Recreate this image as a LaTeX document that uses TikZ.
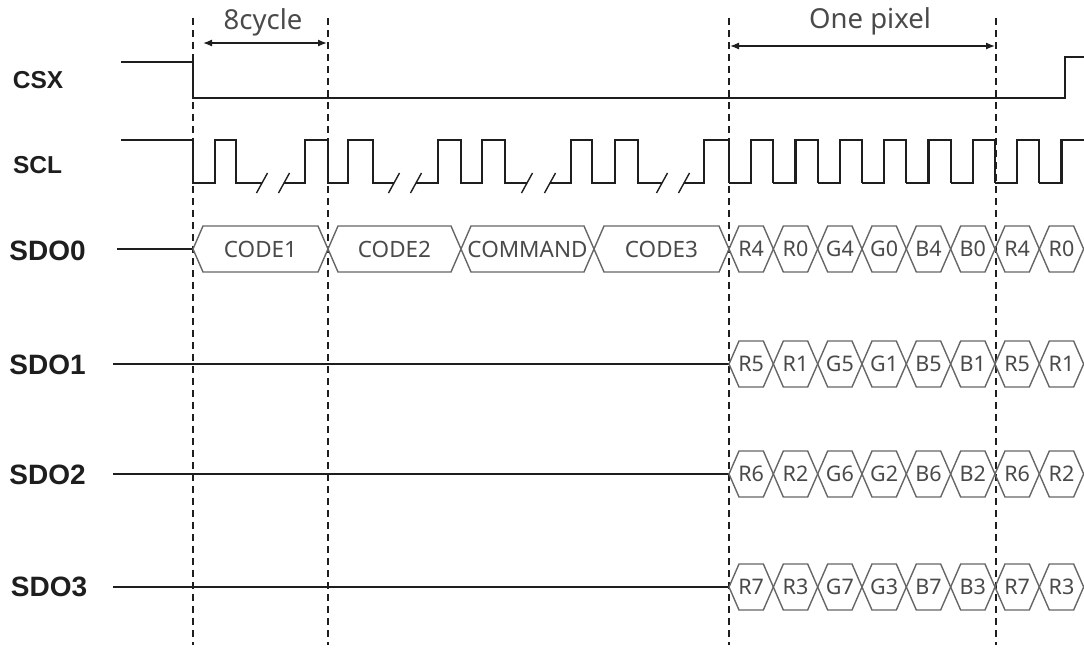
\documentclass[tikz,border=0pt]{standalone}
\usepackage{fontspec}
\setmainfont{Liberation Sans}
\newfontfamily\hexfont{Noto Sans}
\usetikzlibrary{arrows.meta}
\definecolor{sig}{HTML}{1E1E1E}
\definecolor{hexgray}{HTML}{666666}
\definecolor{txtgray}{HTML}{4A4A4A}
\tikzset{
  signal/.style={line width=2.2pt, sig, line join=miter},
  marker/.style={line width=2pt, dash pattern=on 7pt off 5pt, sig},
  hexline/.style={line width=1.4pt, hexgray, line join=miter},
  hextext/.style={font=\hexfont\fontsize{22.5}{26}\selectfont, txtgray, inner sep=0pt},
  pixtext/.style={font=\hexfont\fontsize{21.5}{24}\selectfont, txtgray, inner sep=0pt},
  siglabel/.style={font=\bfseries\fontsize{24.5}{28}\selectfont, sig, inner sep=0pt},
  sdolabel/.style={font=\bfseries\fontsize{28}{32}\selectfont, sig, inner sep=0pt},
  dimtext/.style={font=\hexfont\fontsize{27.5}{32}\selectfont, txtgray, inner sep=0pt},
  dimarrow/.style={line width=1.3pt, sig, {Latex[length=9pt,width=7pt]}-{Latex[length=9pt,width=7pt]}},
  breakmark/.style={line width=1.4pt, sig},
}
% hexbox{x1}{x2}{y}{name}{text}{style}
\newcommand{\hexbox}[6]{%
  \draw[hexline] (#1,#3) -- (#1+10,#3-23) -- (#2-10,#3-23) -- (#2,#3) -- (#2-10,#3+23) -- (#1+10,#3+23) -- cycle;
  \node[#6] (#4) at ({(#1+#2)/2},#3) {#5};
}
\newcommand{\cut}[1]{%
  \draw[breakmark] (#1-5.5,193) -- (#1+5.5,173);
}
\begin{document}
\begin{tikzpicture}[x=1pt,y=-1pt]
  \useasboundingbox (0,0) rectangle (1084,651);

  \foreach \m/\x in {a/193,b/328,c/729,d/996} {
    \coordinate (top\m) at (\x,18);
    \coordinate (bot\m) at (\x,645);
    \draw[marker] (top\m) -- (bot\m);
  }

  \node[dimtext] (cyc) at (263,22) {8cycle};
  \node[dimtext] (pix) at (870,21) {One pixel};
  \coordinate (cycl) at (203,43);
  \coordinate (cycr) at (327,43);
  \coordinate (pixl) at (730,46);
  \coordinate (pixr) at (995,46);
  \draw[dimarrow] (cycl) -- (cycr);
  \draw[dimarrow] (pixl) -- (pixr);

  \node[siglabel] (csx) at (38,80) {CSX};
  \node[siglabel] (scl) at (37.5,165) {SCL};
  \node[sdolabel] (sdoa) at (47.5,251) {SDO0};
  \node[sdolabel] (sdob) at (47.5,365) {SDO1};
  \node[sdolabel] (sdoc) at (47.5,475) {SDO2};
  \node[sdolabel] (sdod) at (49,587) {SDO3};

  \draw[signal] (121,62) -- (193,62) -- (193,98) -- (1065,98) -- (1065,57) -- (1084,57);

  \draw[signal] (121,140) -- (193,140) -- (193,183) -- (215,183) -- (215,140) -- (236,140) -- (236,183) -- (262,183);
  \cut{262} \cut{284}
  \draw[signal] (284,183) -- (305,183) -- (305,140) -- (328,140) -- (328,183) -- (348,183) -- (348,140) -- (373,140) -- (373,183) -- (394,183);
  \cut{394} \cut{416}
  \draw[signal] (416,183) -- (438,183) -- (438,140) -- (461,140) -- (461,183) -- (482,183) -- (482,140) -- (505,140) -- (505,183) -- (527,183);
  \cut{527} \cut{550}
  \draw[signal] (550,183) -- (571,183) -- (571,140) -- (592,140) -- (592,183) -- (615,183) -- (615,140) -- (638,140) -- (638,183) -- (662,183);
  \cut{662} \cut{684}
  \draw[signal] (684,183) -- (704,183) -- (704,140) -- (729,140) -- (729,183);
  \foreach \k in {0,...,6} {
    \draw[signal] (729+\k*44.33,183) -- ++(22.17,0) -- ++(0,-43) -- ++(22.17,0) -- ++(0,43);
  }
  \draw[signal] (1039.3,183) -- (1061.5,183) -- (1061.5,140) -- (1084,140);

  \draw[signal] (117,249) -- (193,249);
  \hexbox{193}{328}{249}{codea}{CODE1}{hextext}
  \hexbox{328}{461}{249}{codeb}{CODE2}{hextext}
  \hexbox{461}{594}{249}{cmd}{COMMAND}{hextext}
  \hexbox{594}{729}{249}{codec}{CODE3}{hextext}
  \foreach \lab [count=\i from 0] in {R4,R0,G4,G0,B4,B0,R4,R0} {
    \hexbox{729+\i*44.33}{773.33+\i*44.33}{249}{pa\i}{\lab}{pixtext}
  }

  \draw[signal] (113,364) -- (729,364);
  \foreach \lab [count=\i from 0] in {R5,R1,G5,G1,B5,B1,R5,R1} {
    \hexbox{729+\i*44.33}{773.33+\i*44.33}{364}{pb\i}{\lab}{pixtext}
  }

  \draw[signal] (113,474) -- (729,474);
  \foreach \lab [count=\i from 0] in {R6,R2,G6,G2,B6,B2,R6,R2} {
    \hexbox{729+\i*44.33}{773.33+\i*44.33}{474}{pc\i}{\lab}{pixtext}
  }

  \draw[signal] (113,587) -- (729,587);
  \foreach \lab [count=\i from 0] in {R7,R3,G7,G3,B7,B3,R7,R3} {
    \hexbox{729+\i*44.33}{773.33+\i*44.33}{587}{pd\i}{\lab}{pixtext}
  }
\end{tikzpicture}
\end{document}
